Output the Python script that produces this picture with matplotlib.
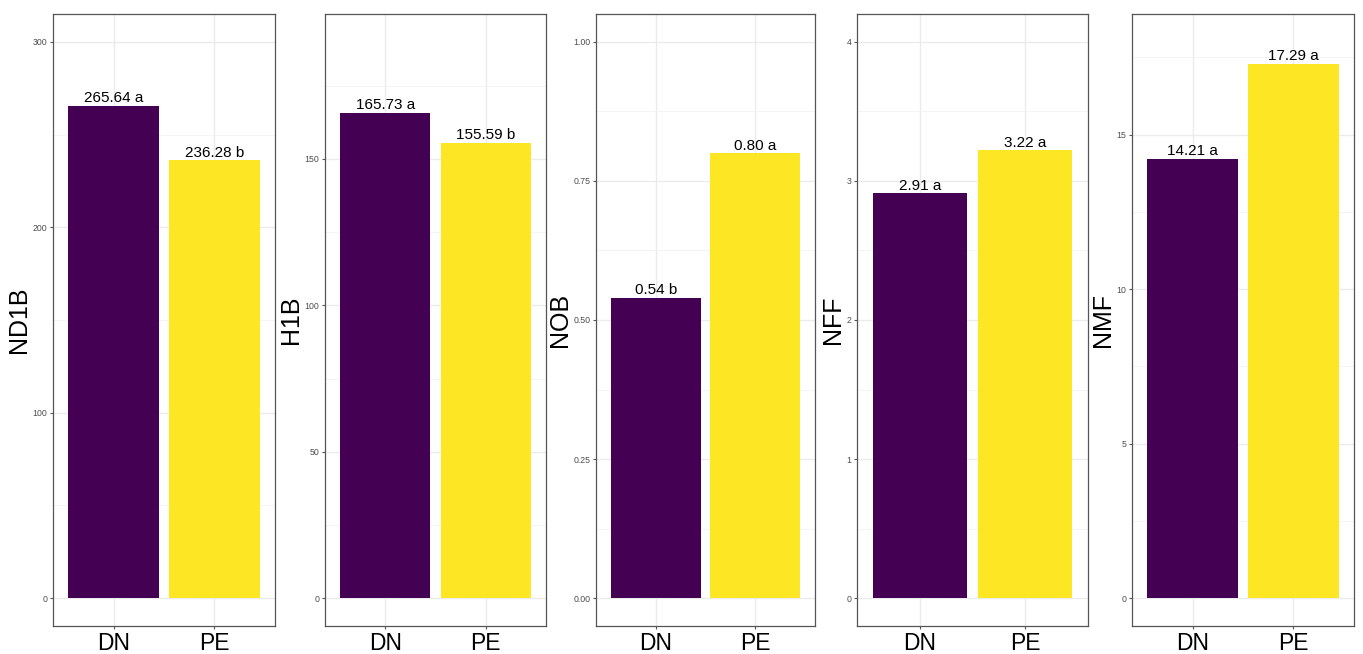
import matplotlib.pyplot as plt
import numpy as np

plt.rcParams['font.family'] = ['Liberation Sans', 'DejaVu Sans']

# data
groups = ['DN', 'PE']
variables = ['ND1B', 'H1B', 'NOB', 'NFF', 'NMF']
dn_values = [265.64, 165.73, 0.54, 2.91, 14.21]
pe_values = [236.28, 155.59, 0.80, 3.22, 17.29]
dn_letters = ['a', 'a', 'b', 'a', 'a']
pe_letters = ['b', 'b', 'a', 'a', 'a']
y_upper = [300, 190, 1.0, 4.0, 18.0]
y_major = [
    [0, 100, 200, 300],
    [0, 50, 100, 150],
    [0.0, 0.25, 0.5, 0.75, 1.0],
    [0, 1, 2, 3, 4],
    [0, 5, 10, 15],
]
tick_fmt = ['{:.0f}', '{:.0f}', '{:.2f}', '{:.0f}', '{:.0f}']

colors = ['#440154', '#FDE725']

W, H = 1363, 654
fig = plt.figure(figsize=(W / 100, H / 100), dpi=100)

# panel edges in pixels
panel_x = [(53, 275), (325, 546), (596, 815), (857, 1088), (1132, 1354)]
top_px, bot_px = 14, 626

x = np.arange(1, len(groups) + 1)

for i, var in enumerate(variables):
    x0, x1 = panel_x[i]
    ax = fig.add_axes([x0 / W, 1 - bot_px / H, (x1 - x0) / W, (bot_px - top_px) / H])
    vals = [dn_values[i], pe_values[i]]
    letters = [dn_letters[i], pe_letters[i]]
    ax.bar(x, vals, width=0.9, color=colors, zorder=2)

    for xi, v, l in zip(x, vals, letters):
        ax.annotate('{:.2f} {}'.format(v, l), (xi, v), xytext=(0, 2.5), textcoords='offset points',
                    ha='center', va='baseline', fontsize=11, color='black')

    u = y_upper[i]
    ax.set_ylim(-0.05 * u, 1.05 * u)
    ax.set_xlim(0.4, 2.6)

    ticks = y_major[i]
    ax.set_yticks(ticks)
    ax.set_yticklabels([tick_fmt[i].format(t) for t in ticks])
    step = ticks[1] - ticks[0]
    minor = [t + step / 2 for t in ticks]
    minor = [m for m in minor if m < 1.05 * u]
    ax.set_yticks(minor, minor=True)
    ax.set_xticks(x)
    ax.set_xticklabels(groups)

    ax.grid(True, which='major', color='#EBEBEB', linewidth=1.0, zorder=0)
    ax.grid(True, which='minor', axis='y', color='#F2F2F2', linewidth=0.6, zorder=0)
    ax.set_axisbelow(True)

    for s in ax.spines.values():
        s.set_color('#555555')
        s.set_linewidth(0.9)

    ax.tick_params(axis='y', which='major', labelsize=6.3, labelcolor='#4D4D4D',
                   color='#555555', length=2.5, width=0.8, pad=1.5)
    ax.tick_params(axis='x', which='major', labelsize=16.5, labelcolor='black',
                   color='#555555', length=2.5, width=0.8, pad=2)
    ax.tick_params(which='minor', length=0)

    ax.set_ylabel(var, fontsize=18, labelpad=1)

fig.savefig('out.png', dpi=100)
